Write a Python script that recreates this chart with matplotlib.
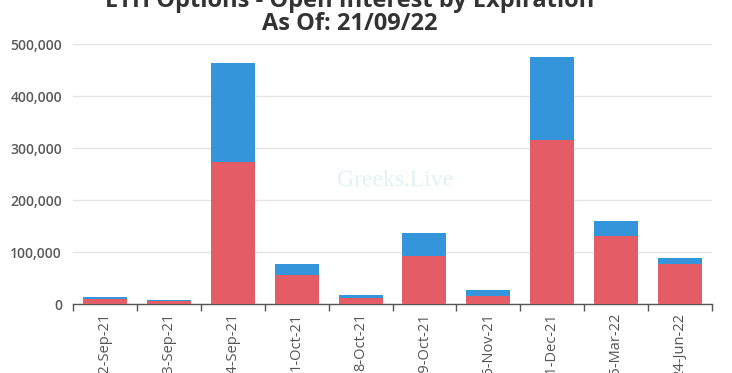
import matplotlib
matplotlib.use("Agg")
import matplotlib.pyplot as plt
from matplotlib.ticker import FuncFormatter, FixedLocator
import numpy as np

categories = ["22-Sep-21", "23-Sep-21", "24-Sep-21", "1-Oct-21", "8-Oct-21",
              "29-Oct-21", "26-Nov-21", "31-Dec-21", "25-Mar-22", "24-Jun-22"]
puts = [9000, 5500, 273000, 55000, 12000, 92000, 16000, 315000, 131000, 77000]
calls = [5000, 1500, 190000, 22000, 5000, 45000, 11000, 160000, 29000, 11000]
yticks = [0, 100000, 200000, 300000, 400000, 500000]

W, H = 732, 373
fig = plt.figure(figsize=(W / 100, H / 100), dpi=100)
plt.rcParams['font.family'] = ['Open Sans', 'DejaVu Sans']

left, right, top, bottom = 73, 712, 44, 304
ax = fig.add_axes([left / W, 1 - bottom / H, (right - left) / W, (bottom - top) / H])

x = np.arange(len(categories))
red = "#E45C66"
blue = "#3595DB"
ax.bar(x, puts, width=0.69, color=red, zorder=3)
ax.bar(x, calls, width=0.69, bottom=puts, color=blue, zorder=3)

ax.set_xlim(-0.5, len(categories) - 0.5)
ax.set_ylim(0, 500000)
ax.set_yticks(yticks)
ax.yaxis.set_major_formatter(FuncFormatter(lambda v, p: f"{int(v):,}"))
ax.grid(axis='y', color="#e3e3e3", linewidth=1, zorder=0)
ax.tick_params(axis='y', length=0, pad=8, labelsize=10, labelcolor="#5a5a5a")
for lab in ax.get_yticklabels():
    lab.set_fontweight('semibold')

ax.set_xticks(x)
ax.set_xticklabels(categories, rotation=90, fontsize=10.5, color="#555555")
ax.xaxis.set_minor_locator(FixedLocator(np.arange(-0.5, len(categories), 1.0)))
ax.tick_params(axis='x', which='major', length=0, pad=6.5)
ax.tick_params(axis='x', which='minor', length=5, color="#555555", width=1)

for s in ['top', 'right', 'left']:
    ax.spines[s].set_visible(False)
ax.spines['bottom'].set_color("#555555")
ax.spines['bottom'].set_linewidth(1)

# watermark
fig.text(395 / W, 1 - 180 / H, "Greeks.Live", fontsize=17, color="#e0f2f2",
         ha='center', va='center', family='Liberation Serif', zorder=1)

fig.text(350 / W, 1 - 7 / H, "ETH Options - Open Interest by Expiration",
         ha='center', va='baseline', fontsize=17, fontweight='bold', color="#333333")
fig.text(350 / W, 1 - 30 / H, "As Of: 21/09/22",
         ha='center', va='baseline', fontsize=17, fontweight='bold', color="#333333")

fig.savefig("out.png", dpi=100)
